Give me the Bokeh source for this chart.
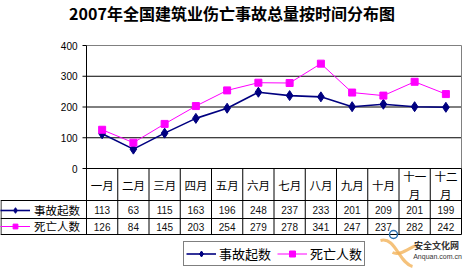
from bokeh.plotting import figure
from bokeh.models import Range1d, Legend, LegendItem
from bokeh.core.properties import value
from bokeh.embed import file_html
from bokeh.resources import INLINE

# ---------------- data ----------------
title_text = "2007年全国建筑业伤亡事故总量按时间分布图"
months = ["一月", "二月", "三月", "四月", "五月", "六月",
          "七月", "八月", "九月", "十月", "十一月", "十二月"]
accidents = [113, 63, 115, 163, 196, 248, 237, 233, 201, 209, 201, 199]
deaths = [126, 84, 145, 203, 254, 279, 278, 341, 247, 237, 282, 242]
series_names = ["事故起数", "死亡人数"]
y_ticks = [0, 100, 200, 300, 400]

NAVY = "#000080"
MAGENTA = "#FF00FF"
CJK = "Noto Sans CJK SC"
NUM = "Liberation Sans"

# ---------------- layout constants (pixels) ----------------
W, H = 465, 268
LEFT = 86                      # plot-area / table left rule
COLW = 31.25                   # month column width
PLOT_TOP_PX, PLOT_BOT_PX = 45, 168
HDR_BOT, ROW1_BOT, ROW2_BOT = 200, 218, 234
VMAX = 400.0
k = VMAX / (PLOT_BOT_PX - PLOT_TOP_PX)

def ux(px):                     # page x pixel -> month units
    return (px - LEFT) / COLW

def vy(px):                     # page y pixel -> value units
    return (PLOT_BOT_PX - px) * k

n = len(months)
xc = [i + 0.5 for i in range(n)]
RIGHT = LEFT + n * COLW

# one figure whose frame is the whole page; main ranges are page pixels
p = figure(width=W, height=H, output_backend="svg", toolbar_location=None,
           x_range=Range1d(0, W), y_range=Range1d(H, 0),
           x_axis_location=None, y_axis_location=None,
           min_border_left=0, min_border_right=0, min_border_top=0, min_border_bottom=0)
p.extra_x_ranges = {"mx": Range1d(ux(0), ux(W))}
p.extra_y_ranges = {"val": Range1d(vy(H), vy(0))}
p.outline_line_color = None
p.xgrid.grid_line_color = None
p.ygrid.grid_line_color = None
p.background_fill_color = "white"
p.border_fill_color = "white"

# title
p.text(x=[W / 2 - 1], y=[12], text=[title_text], text_align="center", text_baseline="middle",
       text_font=value(CJK), text_font_size="16px", text_font_style="bold", text_color="black")

# value axis: gridlines, ticks, labels (placed through the value scale)
p.segment(x0=[0] * 3, y0=y_ticks[1:-1], x1=[n] * 3, y1=y_ticks[1:-1],
          line_color="black", line_width=1, x_range_name="mx", y_range_name="val")
p.segment(x0=[0, n], y0=[VMAX, VMAX], x1=[n, n], y1=[VMAX, 0],
          line_color="#808080", line_width=1, x_range_name="mx", y_range_name="val")
p.segment(x0=[LEFT - 4] * len(y_ticks), y0=y_ticks, x1=[LEFT] * len(y_ticks), y1=y_ticks,
          line_color="black", line_width=1, y_range_name="val")
p.text(x=[LEFT - 9] * len(y_ticks), y=y_ticks, text=[str(t) for t in y_ticks],
       text_align="right", text_baseline="middle", text_font=value(NUM),
       text_font_size="10px", text_color="black", y_range_name="val")

# series
r1l = p.line(xc, accidents, line_color=NAVY, line_width=1.6, x_range_name="mx", y_range_name="val")
r1m = p.scatter(xc, accidents, marker="diamond", size=10, fill_color=NAVY, line_color=NAVY,
                x_range_name="mx", y_range_name="val")
r2l = p.line(xc, deaths, line_color=MAGENTA, line_width=1, x_range_name="mx", y_range_name="val")
r2m = p.scatter(xc, deaths, marker="square", size=7, fill_color=MAGENTA, line_color=MAGENTA,
                x_range_name="mx", y_range_name="val")

# ---------------- data table ----------------
rows_y = [PLOT_BOT_PX, HDR_BOT, ROW1_BOT, ROW2_BOT]
p.segment(x0=[LEFT, 0, 0, 0], y0=rows_y, x1=[RIGHT] * 4, y1=rows_y,
          line_color="black", line_width=1)
p.segment(x0=list(range(n + 1)), y0=[vy(PLOT_TOP_PX)] + [0] * n,
          x1=list(range(n + 1)), y1=[vy(ROW2_BOT)] * (n + 1),
          line_color="black", line_width=1, x_range_name="mx", y_range_name="val")
p.segment(x0=[0.5], y0=[HDR_BOT], x1=[0.5], y1=[ROW2_BOT], line_color="black", line_width=1)

hdr = [m if len(m) <= 2 else m[:2] + "\n" + m[2:] for m in months]
p.text(x=xc, y=[184.5] * n, text=hdr, text_align="center", text_baseline="middle",
       text_font=value(CJK), text_font_size="11.5px", text_color="black",
       text_line_height=1.1, x_range_name="mx")
p.text(x=xc, y=[209.5] * n, text=[str(v) for v in accidents], text_align="center",
       text_baseline="middle", text_font=value(NUM), text_font_size="10px",
       text_color="#111111", x_range_name="mx")
p.text(x=xc, y=[226.5] * n, text=[str(v) for v in deaths], text_align="center",
       text_baseline="middle", text_font=value(NUM), text_font_size="10px",
       text_color="#111111", x_range_name="mx")

# row-label cells: a one-item legend per row
def row_legend(i, top_px, bot_px):
    pad = 2
    return Legend(items=[LegendItem(label=series_names[i], renderers=[[r1l, r1m], [r2l, r2m]][i])],
                  location=(0, H - bot_px), orientation="vertical",
                  label_text_font=CJK, label_text_font_size="11.5px", label_text_color="black",
                  glyph_width=30, glyph_height=bot_px - top_px - 2 * pad,
                  label_height=bot_px - top_px - 2 * pad, label_width=48,
                  label_standoff=4, padding=pad, spacing=0, margin=0,
                  border_line_color=None,
                  background_fill_color="white", background_fill_alpha=0)

p.add_layout(row_legend(0, HDR_BOT, ROW1_BOT))
p.add_layout(row_legend(1, ROW1_BOT, ROW2_BOT))

# bottom legend
leg = Legend(items=[LegendItem(label=series_names[0], renderers=[r1l, r1m]),
                    LegendItem(label=series_names[1], renderers=[r2l, r2m])],
             orientation="horizontal", location=(183, 2),
             label_text_font=CJK, label_text_font_size="13px", label_text_color="black",
             glyph_width=30, glyph_height=15, label_height=15, label_standoff=3,
             spacing=6, padding=2, margin=0,
             border_line_color="black", border_line_width=1,
             background_fill_color="white", background_fill_alpha=1)
p.add_layout(leg)

# watermark (bottom right)
p.circle(x=[393], y=[234], radius=4, fill_color=None, line_color="#2A6FB0", line_width=1.5)
p.bezier(x0=[380], y0=[240], x1=[412], y1=[266], cx0=[395], cy0=[236],
         cx1=[398], cy1=[262], line_color="#F3B35A", line_width=3, line_alpha=0.8)
p.bezier(x0=[392], y0=[252], x1=[418], y1=[244], cx0=[400], cy0=[256],
         cx1=[410], cy1=[246], line_color="#F3B35A", line_width=3, line_alpha=0.8)
p.text(x=[436], y=[245], text=["安全文化网"], text_align="center", text_baseline="middle",
       text_font=value(CJK), text_font_size="9px", text_font_style="bold", text_color="#333333")
p.text(x=[437], y=[256], text=["Anquan.com.cn"], text_align="center", text_baseline="middle",
       text_font=value(NUM), text_font_size="7px", text_color="#333333")

open("out.html", "w").write(file_html(p, INLINE))
